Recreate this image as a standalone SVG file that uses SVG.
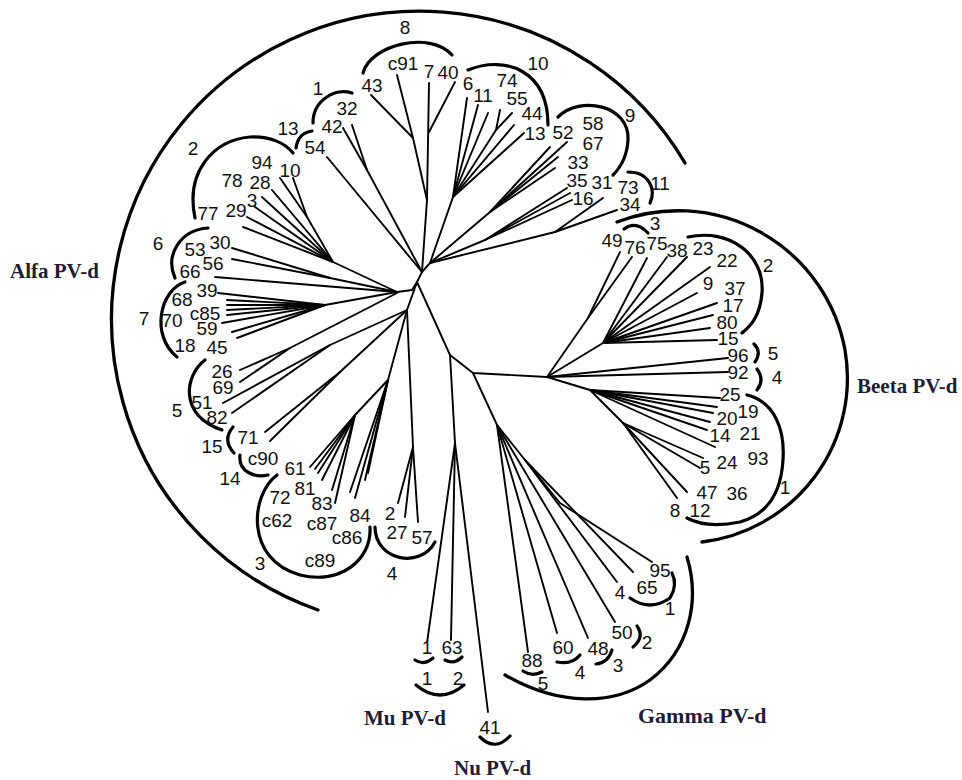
<svg xmlns="http://www.w3.org/2000/svg" width="962" height="780" viewBox="0 0 962 780">
<style>
.br{fill:none;stroke:#000;stroke-width:1.9;stroke-linecap:round;stroke-linejoin:round}
.arc{fill:none;stroke:#000;stroke-width:3.2;stroke-linecap:round}
.big{fill:none;stroke:#000;stroke-width:3.3;stroke-linecap:round}
text{font-family:"Liberation Sans",Arial,sans-serif;font-size:19px;fill:#111;text-anchor:middle}
.grp{font-family:"Liberation Serif","Times New Roman",serif;font-weight:bold;font-size:21px;fill:#1d1d35;text-anchor:start}
</style>
<rect width="962" height="780" fill="#fff"/>
<g id="connectors" class="br">
<path d="M422,272 L417,282"/>
<path d="M422,272 L427,200 L429,83"/>
<path d="M429,132 L455,82"/>
<path d="M427,200 L413,138 L371,95"/>
<path d="M413,138 L397,75"/>
<path d="M422,272 L327,157"/>
<path d="M422,272 L367,170 L343,128"/>
<path d="M367,170 L352,125"/>
<path d="M422,272 L430,263"/>
<path d="M430,263 L453,197 L467,98"/>
<path d="M453,197 L478,105"/>
<path d="M453,197 L488,113"/>
<path d="M453,197 L496,130 L500,110"/>
<path d="M496,130 L512,113"/>
<path d="M453,197 L514,125"/>
<path d="M453,197 L524,133"/>
<path d="M430,263 L490,212 L567,142"/>
<path d="M490,212 L550,147"/>
<path d="M490,212 L558,157"/>
<path d="M490,212 L555,168"/>
<path d="M430,263 L485,240 L567,188"/>
<path d="M485,240 L570,193"/>
<path d="M485,240 L572,200"/>
<path d="M430,263 L555,232 L603,198"/>
<path d="M555,232 L617,210"/>
<path d="M417,282 L412,290 L397,292"/>
<path d="M397,292 L333,262 L243,227"/>
<path d="M333,262 L247,217"/>
<path d="M333,262 L255,207"/>
<path d="M333,262 L262,197"/>
<path d="M333,262 L272,190"/>
<path d="M333,262 L307,217 L280,178"/>
<path d="M307,217 L293,178"/>
<path d="M397,292 L330,278 L232,248"/>
<path d="M330,278 L232,259"/>
<path d="M397,292 L215,277"/>
<path d="M397,292 L325,305 L218,293"/>
<path d="M325,305 L227,300"/>
<path d="M325,305 L227,305"/>
<path d="M325,305 L227,310"/>
<path d="M325,305 L227,315"/>
<path d="M325,305 L222,323"/>
<path d="M325,305 L232,332"/>
<path d="M325,305 L237,338"/>
<path d="M417,282 L407,310"/>
<path d="M397,293 L290,348 L240,370"/>
<path d="M290,348 L240,382"/>
<path d="M407,310 L330,345 L223,403"/>
<path d="M330,345 L232,413"/>
<path d="M407,310 L340,372 L265,432"/>
<path d="M340,372 L270,441"/>
<path d="M407,310 L388,380 L355,415 L310,467"/>
<path d="M355,415 L315,469"/>
<path d="M355,415 L318,473"/>
<path d="M355,415 L322,480"/>
<path d="M355,415 L332,490"/>
<path d="M355,415 L335,503"/>
<path d="M388,380 L350,492"/>
<path d="M388,380 L355,498"/>
<path d="M388,380 L365,480"/>
<path d="M388,380 L368,473"/>
<path d="M407,310 L413,447 L398,503"/>
<path d="M413,447 L405,517"/>
<path d="M413,447 L418,522"/>
<path d="M417,282 L450,355 L473,373 L547,377"/>
<path d="M450,355 L455,443 L427,643"/>
<path d="M455,443 L451,640"/>
<path d="M455,443 L488,712"/>
<path d="M473,373 L497,425 L528,652"/>
<path d="M497,425 L557,633"/>
<path d="M497,425 L588,638"/>
<path d="M497,425 L615,622"/>
<path d="M497,425 L525,460 L560,503 L652,562"/>
<path d="M525,460 L617,582"/>
<path d="M525,460 L633,572"/>
<path d="M547,377 L588,318 L620,252"/>
<path d="M588,318 L632,257"/>
<path d="M547,377 L603,343 L647,258"/>
<path d="M603,343 L667,257"/>
<path d="M603,343 L687,257"/>
<path d="M603,343 L710,267"/>
<path d="M603,343 L697,293"/>
<path d="M603,343 L717,303"/>
<path d="M603,343 L713,315"/>
<path d="M603,343 L710,328"/>
<path d="M603,343 L717,340"/>
<path d="M547,377 L728,358"/>
<path d="M547,377 L728,372"/>
<path d="M547,377 L590,390 L720,398"/>
<path d="M590,390 L717,407"/>
<path d="M590,390 L713,413"/>
<path d="M590,390 L710,422"/>
<path d="M590,390 L707,430"/>
<path d="M590,390 L715,447"/>
<path d="M590,390 L623,423 L703,458"/>
<path d="M623,423 L700,468"/>
<path d="M623,423 L687,492"/>
<path d="M623,423 L677,498"/>
</g>
<g id="alfa">
<path class="big" d="M318,610 A308,308 0 1 1 685,163"/>
<text class="grp" x="10" y="278">Alfa PV-d</text>
</g>
<g id="alfa-8">
<path class="arc" d="M363,73 C370,45 430,30 452,55"/>
<text x="405" y="34">8</text><text x="403" y="70">c91</text><text x="429" y="78">7</text><text x="448" y="79">40</text><text x="372" y="92">43</text>
</g>
<g id="alfa-1">
<path class="arc" d="M313,123 C313,100 335,88 352,93"/>
<text x="318" y="95">1</text><text x="347" y="115">32</text><text x="332" y="133">42</text>
</g>
<g id="alfa-13">
<path class="arc" d="M296,148 Q298,133 312,131"/>
<text x="288" y="135">13</text><text x="315" y="154">54</text>
</g>
<g id="alfa-2">
<path class="arc" d="M195,218 C185,170 215,140 250,137 C270,136 285,143 293,153"/>
<text x="193" y="155">2</text><text x="262" y="169">94</text><text x="290" y="177">10</text><text x="232" y="187">78</text><text x="260" y="189">28</text><text x="252" y="207">3</text><text x="236" y="217">29</text><text x="208" y="220">77</text>
</g>
<g id="alfa-6">
<path class="arc" d="M208,228 C180,230 165,255 175,278"/>
<text x="158" y="250">6</text><text x="195" y="256">53</text><text x="220" y="249">30</text><text x="213" y="270">56</text><text x="190" y="278">66</text>
</g>
<g id="alfa-7">
<path class="arc" d="M185,282 C160,290 150,335 177,357"/>
<text x="207" y="297">39</text><text x="182" y="306">68</text><text x="144" y="325">7</text><text x="172" y="327">70</text><text x="205" y="320">c85</text><text x="207" y="335">59</text><text x="185" y="352">18</text><text x="217" y="354">45</text>
</g>
<g id="alfa-5">
<path class="arc" d="M205,360 C185,375 178,415 222,430"/>
<text x="222" y="378">26</text><text x="223" y="394">69</text><text x="202" y="409">51</text><text x="177" y="417">5</text><text x="217" y="424">82</text>
</g>
<g id="alfa-15">
<path class="arc" d="M233,427 Q222,440 234,453"/>
<text x="248" y="444">71</text><text x="212" y="453">15</text>
</g>
<g id="alfa-14">
<path class="arc" d="M240,455 C238,472 255,478 268,475"/>
<text x="263" y="465">c90</text><text x="230" y="485">14</text>
</g>
<g id="alfa-3">
<path class="arc" d="M277,475 C250,495 245,560 300,575 C340,585 372,560 370,527"/>
<text x="295" y="475">61</text><text x="305" y="495">81</text><text x="280" y="504">72</text><text x="322" y="510">83</text><text x="277" y="527">c62</text><text x="322" y="530">c87</text><text x="360" y="522">84</text><text x="347" y="544">c86</text><text x="320" y="567">c89</text><text x="260" y="570">3</text>
</g>
<g id="alfa-4">
<path class="arc" d="M375,527 C375,560 420,570 435,542"/>
<text x="390" y="520">2</text><text x="397" y="539">27</text><text x="422" y="544">57</text><text x="392" y="580">4</text>
</g>
<g id="alfa-10">
<path class="arc" d="M468,70 C505,55 548,70 548,125"/>
<text x="538" y="70">10</text><text x="468" y="90">6</text><text x="507" y="87">74</text><text x="483" y="102">11</text><text x="517" y="105">55</text><text x="532" y="120">44</text><text x="535" y="140">13</text>
</g>
<g id="alfa-9">
<path class="arc" d="M558,117 C580,95 630,105 628,140 C627,158 620,168 613,175"/>
<text x="630" y="122">9</text><text x="563" y="139">52</text><text x="593" y="130">58</text><text x="593" y="150">67</text><text x="578" y="169">33</text><text x="577" y="187">35</text><text x="602" y="189">31</text><text x="583" y="205">16</text>
</g>
<g id="alfa-11">
<path class="arc" d="M628,172 C650,172 656,190 650,203"/>
<text x="628" y="194">73</text><text x="630" y="211">34</text><text x="660" y="190">11</text>
</g>
<g id="beta">
<path class="big" d="M617,222 A170,170 0 0 1 845,350 A165,165 0 0 1 702,542"/>
<text class="grp" x="857" y="393">Beeta PV-d</text>
</g>
<g id="beta-3">
<path class="arc" d="M624,229 Q636,220 648,233"/>
<text x="655" y="230">3</text><text x="612" y="247">49</text><text x="635" y="254">76</text><text x="657" y="250">75</text><text x="677" y="257">38</text><text x="703" y="255">23</text>
</g>
<g id="beta-2">
<path class="arc" d="M688,237 C730,228 765,255 762,293 C760,315 752,325 742,333"/>
<text x="727" y="267">22</text><text x="768" y="272">2</text><text x="708" y="290">9</text><text x="735" y="295">37</text><text x="733" y="312">17</text><text x="727" y="329">80</text><text x="728" y="345">15</text>
</g>
<g id="beta-5">
<path class="arc" d="M754,344 Q762,352 755,362"/>
<text x="738" y="362">96</text><text x="773" y="360">5</text>
</g>
<g id="beta-4">
<path class="arc" d="M757,369 Q765,380 757,390"/>
<text x="738" y="379">92</text><text x="777" y="384">4</text>
</g>
<g id="beta-1">
<path class="arc" d="M747,395 C775,402 785,430 783,460 C781,495 765,515 740,522 C715,527 698,524 687,518"/>
<text x="730" y="401">25</text><text x="748" y="418">19</text><text x="727" y="425">20</text><text x="720" y="442">14</text><text x="750" y="440">21</text><text x="727" y="469">24</text><text x="758" y="465">93</text><text x="705" y="474">5</text><text x="707" y="499">47</text><text x="737" y="500">36</text><text x="785" y="494">1</text><text x="675" y="517">8</text><text x="700" y="517">12</text>
</g>
<g id="gamma">
<path class="big" d="M687,557 C700,600 690,650 650,680 C615,705 560,707 505,675"/>
<text class="grp" x="638" y="723" style="font-size:22px">Gamma PV-d</text>
</g>
<g id="gamma-1">
<path class="arc" d="M630,598 Q650,612 670,598 Q678,585 672,573"/>
<text x="660" y="577">95</text><text x="647" y="594">65</text><text x="620" y="599">4</text><text x="670" y="615">1</text>
</g>
<g id="gamma-2">
<path class="arc" d="M637,626 Q645,637 633,647"/>
<text x="622" y="639">50</text><text x="647" y="649">2</text>
</g>
<g id="gamma-3">
<path class="arc" d="M596,664 Q608,663 612,650"/>
<text x="598" y="655">48</text><text x="618" y="672">3</text>
</g>
<g id="gamma-4">
<path class="arc" d="M557,662 Q572,665 580,655"/>
<text x="563" y="654">60</text><text x="580" y="679">4</text>
</g>
<g id="gamma-5">
<path class="arc" d="M523,671 Q532,677 542,672"/>
<text x="532" y="667">88</text><text x="543" y="690">5</text>
</g>
<g id="mu">
<path class="arc" d="M415,660 Q424,666 433,658"/>
<path class="arc" d="M445,660 Q454,665 462,657"/>
<path class="arc" d="M416,685 Q440,705 464,685"/>
<text x="427" y="654">1</text><text x="452" y="654">63</text><text x="427" y="685">1</text><text x="458" y="685">2</text>
<text class="grp" x="364" y="725">Mu PV-d</text>
</g>
<g id="nu">
<path class="arc" d="M480,737 Q495,752 510,736"/>
<text x="490" y="734">41</text>
<text class="grp" x="454" y="775">Nu PV-d</text>
</g>
</svg>
